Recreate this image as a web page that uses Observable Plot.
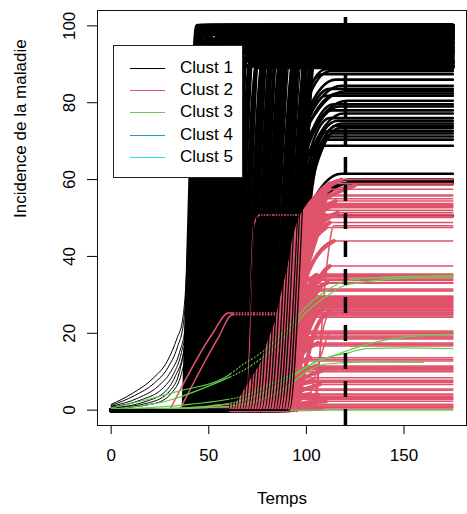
<!DOCTYPE html>
<html>
<head>
<meta charset="utf-8">
<script src="https://cdn.jsdelivr.net/npm/d3@7"></script>
<script src="https://cdn.jsdelivr.net/npm/@observablehq/plot@0.6"></script>
<style>
  body { margin: 0; background: #fff; font-family: "Liberation Sans", Arial, sans-serif; }
  #wrap { position: relative; width: 467px; height: 514px; }
  #legend { position: absolute; left: 113px; top: 45px; width: 130px; height: 133px;
            border: 1px solid #222; background: #fff; box-sizing: border-box; }
  .lrow { position: absolute; left: 0; width: 100%; height: 20px; }
  .lline { position: absolute; left: 16px; width: 35px; top: 10px; height: 1px; }
  .ltext { position: absolute; left: 66px; top: 0; font-size: 17px; line-height: 20px; color: #000; white-space: nowrap; }
</style>
</head>
<body>
<div id="wrap"><div id="chart"></div><div id="legend"></div></div>
<script>
// ---- labels / scales ----
const clusterNames = ["Clust 1", "Clust 2", "Clust 3", "Clust 4", "Clust 5"];
const clusterColors = ["#000000", "#DF536B", "#61D04F", "#2297E6", "#28E2E5"];
const xTicks = [0, 50, 100, 150];
const yTicks = [0, 20, 40, 60, 80, 100];
const tMax = 175;
const cutTime = 120;
const xLabel = "Temps";
const yLabel = "Incidence de la maladie";

// ---- Clust 1 : early slow-start curves (key points) ----
const blackEarly = [
  [[0,1.5],[11,4.4],[21.5,8.3],[28.7,12.7],[33.8,18.8],[36.4,23],[38.5,35],[40,55],[42,80],[44,95],[46.5,100],[175,100]],
  [[0,1.2],[12,3.8],[22,7],[29,11],[34,16.5],[37,22.5],[39,36],[41,60],[43,85],[45.5,98],[47.5,100],[175,100]],
  [[0,1],[14,3.2],[24,6.2],[30.5,10],[35,15],[38,22],[40,38],[42,65],[44,88],[46,98.5],[48,100],[175,100]],
  [[0,0.8],[16,2.8],[26,5.5],[32,9.5],[36,15],[39,24],[41,45],[43,75],[45,93],[47,100],[175,100]],
  [[0,0.6],[18,2.3],[28,5],[33,9],[37,15],[40,27],[42,52],[44,80],[46,96],[48,100],[175,100]],
  [[0,0.5],[20,2],[30,5],[35,10],[38,18],[41,35],[43,62],[45,88],[47,99],[49,100],[175,100]],
  [[0,0.4],[22,1.7],[31,4.5],[36,9.5],[39,17],[42,34],[44,62],[46,88],[48,99],[50,100],[175,100]]
];

// ---- Clust 1 : bulk curves (rise start, rise end, plateau) ----
const fillStart = [36,37,37.5,38,38.6,39,39.8,40.3,41,41.5,
  42.2,43,43.4,44.1,45,45.6,46.2,47,47.5,48.3,
  49,49.6,50.4,51,51.7,52.3,53,53.8,54.4,55,
  55.9,56.5,57.2,58,58.6,59.3,60,60.8,61.5,62.1,
  62.9,63.6,64.2,65,65.7,66.3,67.1,67.8,68.4,69.2,
  70,70.6,71.3,72,72.8,73.5,74.1,75,75.6,76.4,
  77,77.8,78.5,79.1,80,80.7,81.3,82.1,82.8,83.5,
  84.2,85,85.6,86.3,87,87.8,88.4,89.1,90,90.7,
  91.3,92];
const fillEnd = [44,45,45.5,46,46.5,47,47.5,48,49,49.5,
  50.5,51,51.8,52.5,53.5,54,55,55.6,56.5,57,
  58,58.7,59.5,60.3,61,62,62.6,63.5,64.2,65,
  66,66.7,67.5,68.3,69,70,70.8,71.5,72.4,73,
  74,74.7,75.5,76.4,77,78,78.8,79.5,80.3,81,
  82,82.8,83.5,84.3,85,86,86.7,87.5,88.4,89,
  90,90.7,91.5,92.2,93,93.8,94.5,95.3,96,96.8,
  97.5,98.2,99,99.6,100.3,101,101.6,102.2,102.8,103.3,
  103.8,104.3];
const fillTop = [100,99.5,100,98.7,100,97.9,99.2,100,96.5,100,
  98.1,95.4,100,99.7,94.6,97.2,100,93.8,98.9,92.9,
  100,96,91.8,99.4,95,100,90.9,97.6,93.3,100,
  89.6,98.4,94.2,100,96.8,92.3,99.1,90.4,100,95.7,
  97.4,89.2,93,100,98.6,91.2,96.2,100,94.8,99.8,
  90,97,92.6,100,95.2,98.2,89.8,93.6,100,96.5,
  91.5,99,94,100,97.8,90.6,95.9,100,92,98.8,
  93.2,100,96.4,89.4,99.3,94.4,91,97.5,100,92.8,
  95.5,90.2];

// ---- Clust 1 : late curves with lower plateaus (start, knee t, knee value, end, plateau) ----
const lateStart = [86,88,85,87,89,86,90,88,87,91, 89,90,88,92,89,91,90,93,92,91, 93,92,94,93, 92,90,91,93,90];
const lateKneeT = [99,100,98,100,101,99,102,100,99,102, 101,101,100,103,101,102,102,103,103,102, 103,102,103,102, 101,100,100,101,99];
const lateKneeV = [80,80,78,77,76,74,75,73,72,72, 70,69,68,68,66,65,63,60,60,62, 61,60,58,58, 52,52,50,50,44];
const lateEnd = [110,112,108,115,118,112,120,116,110,121, 114,117,113,119,112,116,118,115,117,111, 113,112,110,108, 118,122,126,120,112];
const lateTop = [88.7,88.2,87.4,86,84.4,83.6,83,82.4,81.8,80.5, 79.6,79,78,77.2,76,75.3,74.6,74,73.4,72.6, 72,71.2,70.4,68.8, 61.5,60,59.6,59,50.5];

// ---- Clust 2 (start, knee t, knee value, end, plateau) ----
const redStart = [86,84,85,83,87,82,86,84,88,70, 85,88,87,90,94,80,78,82,85,76, 88,74,90,79,72,92,81,95,30,35, 77,70,66,75,68,80,64,72,65,78, 62,69,85,63,74,66,81,67,71,76, 64,83,20,68,5,73,104,105,100,
  62,63,65,67,68,70,71,73,64,66, 69,72,75,77,79,61,63,74,76,78,
  63,64,65,66,67,68,69,70,71,72, 73,74,75,76,77,78,79,80,81,82, 83,84,62,65];
const redKneeT = [97,96,97,95,98,95,98,96,99,73, 97,100,99,101,103,96,95,97,99,94, 100,93,101,96,92,102,97,104,52,55, 95,90,88,93,89,96,86,91,86,95, 84,88,98,82,92,85,97,86,90,94, 84,98,45,90,30,95,109,111,108,
  85,88,87,90,86,92,90,93,84,86, 89,92,94,95,96,82,85,93,94,96,
  76,78,79,80,81,82,83,84,85,86, 86,87,88,89,89,90,91,92,92,93, 94,95,75,77];
const redKneeV = [50,48,47,45,46,44,45,43,42,48, 41,40,39,36,30,28,27,26,26,24, 24,23,23,22,21,22,21,20,20,19, 20,16,15,15,14,14,13,11,10,9, 9,8.5,8,6.5,6,5.5,5,4.3,3.2,2.8, 2.3,1.8,0.8,0.8,0.4,0.2,22,40,15,
  15,20,12,22,18,30,25,35,10,8, 12,6,18,40,30,5,0.8,28,42,3,
  10,12,8,14,10,6,15,11,9,16, 12,7,18,13,20,10,22,15,25,11, 28,14,4,2.5];
const redEnd = [118,125,112,110,115,108,113,110,116,76, 109,112,110,114,112,110,108,111,107,105, 106,104,108,103,102,109,104,112,60,62, 103,100,100,104,101,106,98,102,99,105, 97,100,108,96,103,98,107,99,102,105, 97,110,60,102,50,108,113,114,112,
  100,103,101,104,102,106,105,108,99,100, 103,104,106,110,109,96,98,107,112,106,
  100,102,99,103,101,98,104,102,100,105, 103,101,106,104,107,103,108,105,109,104, 110,105,98,97];
const redTop = [60,58.5,57.5,55.7,54.4,53.8,53.2,52.7,51.4,50.8, 50.1,48.8,47.5,44,37.5,35.4,34.4,33.2,31.5,29.7, 29.3,28.8,28.3,27.8,27.3,26.8,26.3,25.8,25.3,24.8, 24.5,20.6,20,19.3,18.8,17.5,16.7,13.6,12.8,11.5, 11,10.5,10.2,8.4,7.8,7.2,6.7,5.5,4.2,3.6, 3,2.3,1.5,1.1,0.7,0.3,26,48,20,
  27.5,29,26,34.8,25.5,35,28,53.5,19.8,10.8, 17,7.5,29,56,51,3.3,1,33.8,59,4,
  26.6,28.6,18.5,31.2,20.3,10,33,24.2,13.2,35.2, 27,11.2,34,29.5,53,17.2,50.4,31,52,19, 55,25,5.2,2.8];

// ---- Clust 3 (key points) ----
const greenCurves = [
  [[0,0.5],[15,2.3],[35,5],[58,8.4],[68,12],[76,14.6],[86,19],[93,22.7],[100,27],[110,31],[120,33.6],[140,34.6],[175,35]],
  [[0,0.3],[28,2.3],[52,6.7],[70,11],[85,17],[93,21.5],[100,25.5],[110,29.5],[120,32.5],[150,34.3],[175,34.8]],
  [[0,0.2],[40,1.5],[70,4],[85,7.5],[93,9.3],[105,12.5],[115.6,14.5],[130,17],[150,19],[175,19.8]],
  [[0,0],[50,1],[80,5],[95,9.5],[105,12.7],[120,14.7],[131,16],[150,16.2],[175,16]],
  [[0,0],[60,1],[90,6],[100,10],[110,12],[130,12.5],[160,12.4]],
  [[70,0],[175,0]]
];

// ---- build series ----
let nextId = 0;
function series(list) { const id = nextId++; return list.map(([t, v]) => ({id, t, v})); }

const earlyData = blackEarly.flatMap(series);
const fillBack = [], fillFront = [];
fillStart.forEach((s, i) => {
  const p = series([[0,0],[s,0],[fillEnd[i], fillTop[i]],[tMax, fillTop[i]]]);
  (s >= 60 && i % 2 === 0 ? fillFront : fillBack).push(...p);
});
const lateData = lateStart.flatMap((s, i) =>
  series([[0,0],[s,0],[lateKneeT[i], lateKneeV[i]],[lateEnd[i], lateTop[i]],[tMax, lateTop[i]]]));
const redData = redStart.flatMap((s, i) =>
  series([[s,0],[redKneeT[i], redKneeV[i]],[redEnd[i], redTop[i]],[tMax, redTop[i]]]));
// the rising part of the Clust 2 curves, drawn a second time more heavily where they pile up
const redRise = redStart.flatMap((s, i) => s >= 60 && s < 100 && redEnd[i] > 90
  ? series([[s,0],[redKneeT[i], redKneeV[i]],[redEnd[i], redTop[i]]]) : []);
const greenData = greenCurves.flatMap(series);

const lineOpts = (color, w) => ({x: "t", y: "v", z: "id", stroke: color, strokeWidth: w, curve: "monotone-x"});

const chart = Plot.plot({
  width: 467, height: 514,
  marginLeft: 97, marginRight: 1, marginTop: 10, marginBottom: 89,
  x: {domain: [-7, 182]},
  y: {domain: [-4, 104]},
  style: {fontFamily: "Liberation Sans, Arial, sans-serif", fontSize: "17px", color: "#000", background: "white"},
  marks: [
    Plot.line(fillBack, lineOpts(clusterColors[0], 4)),
    Plot.line(earlyData, lineOpts(clusterColors[0], 1)),
    Plot.line(lateData, lineOpts(clusterColors[0], 2.6)),
    Plot.line(redRise, lineOpts(clusterColors[1], 4)),
    Plot.line(redData, lineOpts(clusterColors[1], 1.5)),
    Plot.line(greenData, lineOpts(clusterColors[2], 1.2)),
    Plot.line(fillFront, lineOpts(clusterColors[0], 1.2)),
    Plot.ruleX([cutTime], {stroke: "black", strokeWidth: 3.5, strokeDasharray: "16,12", strokeDashoffset: 21}),
    Plot.frame({stroke: "#111"}),
    Plot.axisX({ticks: xTicks, tickSize: 9, tickPadding: 14, label: null}),
    Plot.axisY({ticks: yTicks, tickSize: 10, tickPadding: 13, tickRotate: -90, textAnchor: "middle", lineAnchor: "bottom", label: null}),
    Plot.text([xLabel], {text: d => d, frameAnchor: "bottom", dy: 78}),
    Plot.text([yLabel], {text: d => d, frameAnchor: "left", dx: -77, rotate: -90})
  ]
});
document.getElementById("chart").appendChild(chart);

// ---- legend ----
const legend = document.getElementById("legend");
const rowTops = [12, 34, 56, 79, 101];
clusterNames.forEach((name, i) => {
  const row = document.createElement("div");
  row.className = "lrow";
  row.style.top = rowTops[i] + "px";
  row.innerHTML = `<div class="lline" style="background:${clusterColors[i]}"></div><div class="ltext">${name}</div>`;
  legend.appendChild(row);
});
</script>
</body>
</html>
